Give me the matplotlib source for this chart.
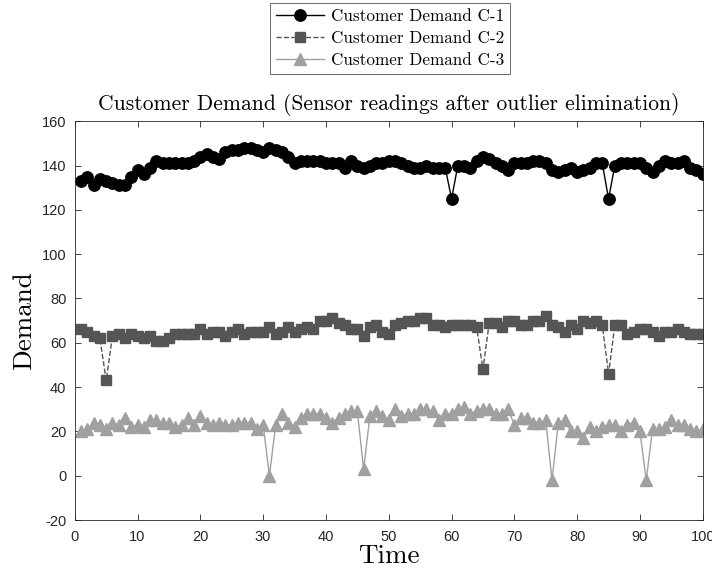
import numpy as np
import matplotlib
matplotlib.use("Agg")
import matplotlib.pyplot as plt

time = np.arange(1, 101)

demand_c1 = [
    133, 135, 131, 134, 133, 132, 131, 131, 135, 138,
    136, 139, 142, 141, 141, 141, 141, 141, 142, 144,
    145, 144, 143, 146, 147, 147, 148, 148, 147, 146,
    148, 147, 146, 144, 141, 142, 142, 142, 142, 141,
    141, 141, 139, 142, 140, 139, 140, 141, 141, 142,
    142, 141, 140, 139, 139, 140, 139, 139, 139, 125,
    140, 140, 139, 142, 144, 143, 141, 140, 138, 141,
    141, 141, 142, 142, 141, 138, 137, 138, 139, 137,
    138, 139, 141, 141, 125, 140, 141, 141, 141, 141,
    139, 137, 140, 142, 141, 141, 142, 139, 138, 136,
]

demand_c2 = [
    66, 65, 63, 62, 43, 63, 64, 62, 64, 63,
    62, 63, 61, 61, 62, 64, 64, 64, 64, 66,
    64, 65, 65, 63, 65, 66, 64, 65, 65, 65,
    67, 64, 65, 67, 65, 66, 67, 66, 70, 70,
    71, 69, 68, 66, 66, 63, 67, 68, 65, 64,
    68, 69, 70, 70, 71, 71, 68, 68, 67, 68,
    68, 68, 68, 67, 48, 69, 69, 67, 70, 70,
    68, 68, 70, 70, 72, 68, 67, 65, 68, 66,
    70, 69, 70, 68, 46, 68, 68, 64, 65, 66,
    66, 65, 63, 65, 65, 66, 65, 64, 64, 64,
]

demand_c3 = [
    20, 21, 24, 23, 21, 24, 23, 26, 22, 23,
    22, 25, 25, 24, 24, 22, 23, 26, 23, 27,
    24, 23, 24, 23, 23, 24, 24, 24, 21, 23,
    0, 23, 28, 24, 22, 26, 28, 28, 28, 26,
    24, 26, 28, 29, 29, 3, 27, 29, 27, 25,
    30, 27, 28, 28, 30, 30, 29, 25, 28, 28,
    30, 31, 28, 29, 30, 30, 28, 28, 30, 23,
    26, 26, 24, 24, 25, -2, 24, 25, 20, 20,
    17, 22, 20, 22, 23, 23, 20, 23, 24, 20,
    -2, 21, 21, 22, 25, 23, 23, 21, 20, 21,
]

series_labels = ["Customer Demand C-1", "Customer Demand C-2", "Customer Demand C-3"]
x_ticks = [0, 10, 20, 30, 40, 50, 60, 70, 80, 90, 100]
y_ticks = [-20, 0, 20, 40, 60, 80, 100, 120, 140, 160]

serif = "cmr10"
plt.rcParams["axes.formatter.use_mathtext"] = True

fig = plt.figure(figsize=(7.12, 5.69), dpi=100)
ax = fig.add_axes([0.105, 0.086, 0.882, 0.701])

l1, = ax.plot(time, demand_c1, "-", color="black", lw=1.0, marker="o",
              markersize=8.2, markerfacecolor="black", markeredgecolor="black")
l2, = ax.plot(time, demand_c2, "--", color="#555555", lw=1.0, marker="s",
              markersize=6.8, markerfacecolor="#555555", markeredgecolor="#555555")
l3, = ax.plot(time, demand_c3, "-", color="#a0a0a0", lw=1.0, marker="^",
              markersize=8.2, markerfacecolor="#a0a0a0", markeredgecolor="#a0a0a0")

ax.set_xlim(0, 100)
ax.set_ylim(-20, 160)
ax.set_xticks(x_ticks)
ax.set_yticks(y_ticks)
ax.set_xticklabels([str(v) for v in x_ticks], fontfamily="Liberation Sans", fontsize=10.5)
ax.set_yticklabels([str(v) for v in y_ticks], fontfamily="Liberation Sans", fontsize=10.5)
ax.tick_params(direction="in", top=True, right=True, length=4, width=0.6,
               colors="#262626")
ax.tick_params(axis="x", pad=7)
ax.tick_params(axis="y", pad=6)
for sp in ax.spines.values():
    sp.set_color("#262626")
    sp.set_linewidth(0.6)

ax.set_xlabel("Time", fontfamily=serif, fontsize=19.5, labelpad=0)
ax.set_ylabel("Demand", fontfamily=serif, fontsize=19.5, labelpad=4)
ax.set_title("Customer Demand (Sensor readings after outlier elimination)",
             fontfamily=serif, fontsize=15.5, pad=8)

leg = fig.legend([l1, l2, l3], series_labels, loc="upper center",
                 bbox_to_anchor=(0.548, 0.995), prop={"family": serif, "size": 12.3},
                 frameon=True, fancybox=False, edgecolor="#262626",
                 handlelength=2.8, borderpad=0.35, labelspacing=0.4,
                 handletextpad=0.4, borderaxespad=0.0)
leg.get_frame().set_linewidth(0.6)

fig.savefig("out.png", dpi=100)
